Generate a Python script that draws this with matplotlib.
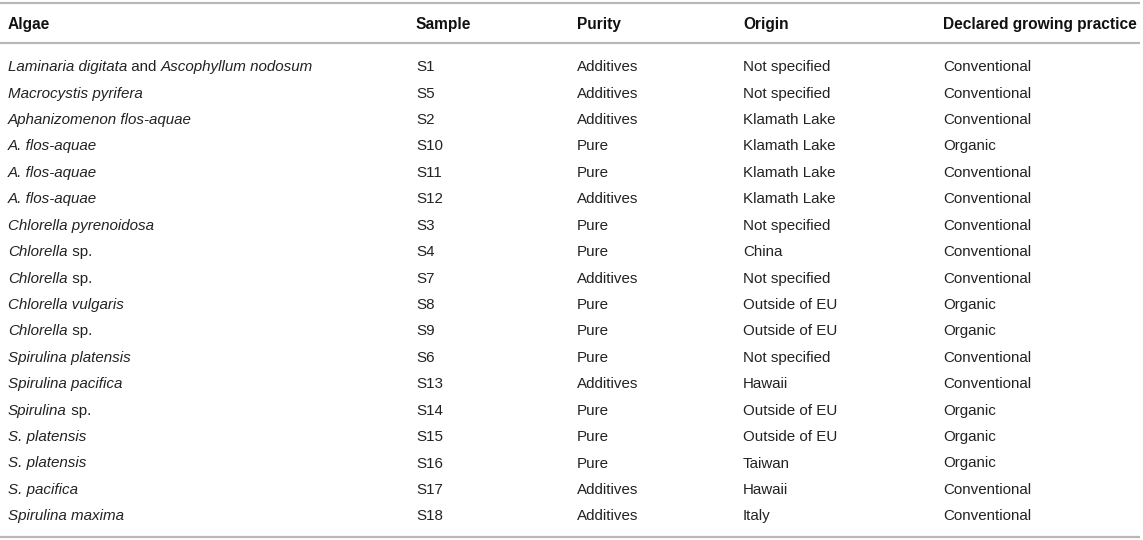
import matplotlib
matplotlib.use("Agg")
import matplotlib.pyplot as plt

headers = ["Algae", "Sample", "Purity", "Origin", "Declared growing practice"]

# algae names as segments: (text, italic)
algae = [
    [("Laminaria digitata", True), (" and ", False), ("Ascophyllum nodosum", True)],
    [("Macrocystis pyrifera", True)],
    [("Aphanizomenon flos-aquae", True)],
    [("A. flos-aquae", True)],
    [("A. flos-aquae", True)],
    [("A. flos-aquae", True)],
    [("Chlorella pyrenoidosa", True)],
    [("Chlorella", True), (" sp.", False)],
    [("Chlorella", True), (" sp.", False)],
    [("Chlorella vulgaris", True)],
    [("Chlorella", True), (" sp.", False)],
    [("Spirulina platensis", True)],
    [("Spirulina pacifica", True)],
    [("Spirulina", True), (" sp.", False)],
    [("S. platensis", True)],
    [("S. platensis", True)],
    [("S. pacifica", True)],
    [("Spirulina maxima", True)],
]
samples = ["S1", "S5", "S2", "S10", "S11", "S12", "S3", "S4", "S7", "S8", "S9",
           "S6", "S13", "S14", "S15", "S16", "S17", "S18"]
purity = ["Additives", "Additives", "Additives", "Pure", "Pure", "Additives", "Pure",
          "Pure", "Additives", "Pure", "Pure", "Pure", "Additives", "Pure", "Pure",
          "Pure", "Additives", "Additives"]
origin = ["Not specified", "Not specified", "Klamath Lake", "Klamath Lake", "Klamath Lake",
          "Klamath Lake", "Not specified", "China", "Not specified", "Outside of EU",
          "Outside of EU", "Not specified", "Hawaii", "Outside of EU", "Outside of EU",
          "Taiwan", "Hawaii", "Italy"]
practice = ["Conventional", "Conventional", "Conventional", "Organic", "Conventional",
            "Conventional", "Conventional", "Conventional", "Conventional", "Organic",
            "Organic", "Conventional", "Conventional", "Organic", "Organic", "Organic",
            "Conventional", "Conventional"]

W, H = 1143, 540
fig = plt.figure(figsize=(W / 100, H / 100), dpi=100)
ax = fig.add_axes([0, 0, 1, 1])
ax.set_xlim(0, W)
ax.set_ylim(H, 0)
ax.axis("off")

FONT = "Liberation Sans"
FS = 10.9
FSH = 11.2
col_x = [8, 416, 577, 743, 943]
line_col = "#b8b8b8"
lw = 1.6
txt_col = "#222222"

for yl in (3.3, 42.7, 536.7):
    ax.plot([0, 1140], [yl, yl], color=line_col, lw=lw, solid_capstyle="butt")

for x, h in zip(col_x, headers):
    ax.text(x, 29.0, h, fontsize=FSH, fontweight="bold", family=FONT,
            va="baseline", ha="left", color="#111111")

fig.canvas.draw()
renderer = fig.canvas.get_renderer()
inv = ax.transData.inverted()

y0, dy = 71.2, 26.42
for i in range(len(samples)):
    y = y0 + i * dy
    x = col_x[0]
    for txt, it in algae[i]:
        t = ax.text(x, y, txt, fontsize=FS, family=FONT, style="italic" if it else "normal",
                    va="baseline", ha="left", color=txt_col)
        bb = t.get_window_extent(renderer=renderer)
        x = inv.transform((bb.x1, 0))[0]
    for cx, val in zip(col_x[1:], [samples[i], purity[i], origin[i], practice[i]]):
        ax.text(cx, y, val, fontsize=FS, family=FONT, va="baseline", ha="left", color=txt_col)

fig.savefig("out.png", dpi=100)
